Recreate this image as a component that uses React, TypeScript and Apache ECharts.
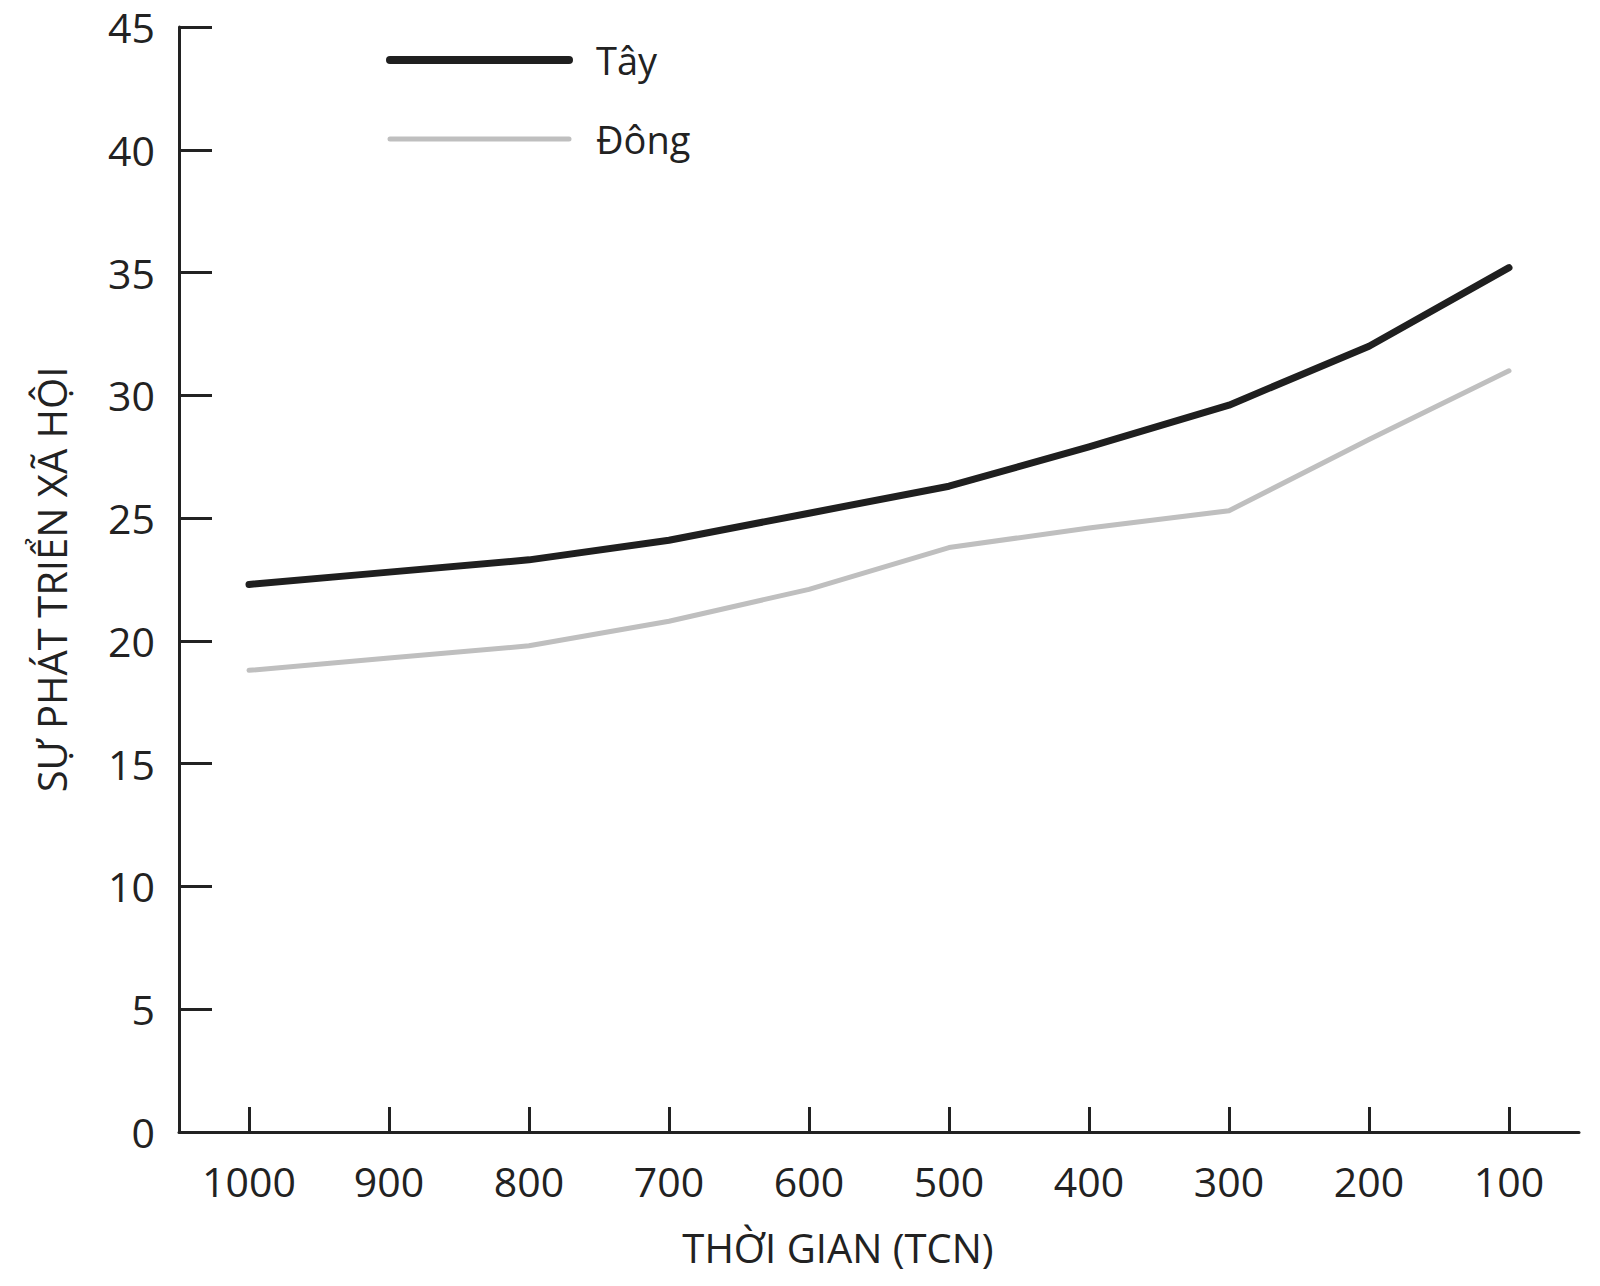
import React, { useEffect, useRef } from "react";
import * as echarts from "echarts";

const categories = ["1000", "900", "800", "700", "600", "500", "400", "300", "200", "100"];
const tayValues = [22.3, 22.8, 23.3, 24.1, 25.2, 26.3, 27.9, 29.6, 32.0, 35.2];
const dongValues = [18.8, 19.3, 19.8, 20.8, 22.1, 23.8, 24.6, 25.3, 28.2, 31.0];
const seriesNames = ["Tây", "Đông"];
const xAxisName = "THỜI GIAN (TCN)";
const yAxisName = "SỰ PHÁT TRIỂN XÃ HỘI";

const FONT = "'Open Sans', 'Noto Sans', sans-serif";
const INK = "#222222";
const TAY_COLOR = "#1f1f1f";
const DONG_COLOR = "#bfbfbf";

export default function App() {
  const ref = useRef<HTMLDivElement>(null);
  useEffect(() => {
    if (!ref.current) return;
    const chart = echarts.init(ref.current, undefined, { renderer: "svg" });
    chart.setOption({
      animation: false,
      backgroundColor: "#ffffff",
      textStyle: { fontFamily: FONT, color: INK },
      grid: { left: 179, right: 21, top: 27, bottom: 154, containLabel: false },
      legend: {
        orient: "vertical",
        left: 381,
        top: 36,
        itemWidth: 179,
        itemHeight: 20,
        itemGap: 41,
        itemStyle: { opacity: 0 },
        data: [
          { name: seriesNames[0], lineStyle: { width: 8, color: TAY_COLOR, cap: "round" } },
          { name: seriesNames[1], lineStyle: { width: 5, color: DONG_COLOR, cap: "round" } },
        ],
        textStyle: { fontFamily: FONT, fontSize: 38, color: INK, padding: [0, 0, 0, 22] },
      },
      xAxis: {
        type: "category",
        data: categories,
        boundaryGap: true,
        name: xAxisName,
        nameLocation: "middle",
        nameGap: 95,
        nameTextStyle: { fontFamily: FONT, fontSize: 40, color: INK, padding: [0, 82, 0, 0] },
        axisLine: { lineStyle: { color: INK, width: 3 } },
        axisTick: { show: true, inside: true, length: 25, alignWithLabel: true, lineStyle: { color: INK, width: 3 } },
        axisLabel: { fontFamily: FONT, fontSize: 41, color: INK, margin: 28 },
        splitLine: { show: false },
      },
      yAxis: {
        type: "value",
        min: 0,
        max: 45,
        interval: 5,
        name: yAxisName,
        nameLocation: "middle",
        nameRotate: 90,
        nameGap: 108,
        nameTextStyle: { fontFamily: FONT, fontSize: 40, color: INK },
        axisLine: { show: true, lineStyle: { color: INK, width: 3 } },
        axisTick: { show: true, inside: true, length: 33, lineStyle: { color: INK, width: 3 } },
        axisLabel: { fontFamily: FONT, fontSize: 41, color: INK, margin: 24 },
        splitLine: { show: false },
      },
      series: [
        {
          name: seriesNames[0],
          type: "line",
          data: tayValues,
          symbol: "none",
          lineStyle: { color: TAY_COLOR, width: 7, cap: "round", join: "round" },
          itemStyle: { color: TAY_COLOR },
        },
        {
          name: seriesNames[1],
          type: "line",
          data: dongValues,
          symbol: "none",
          lineStyle: { color: DONG_COLOR, width: 5, cap: "round", join: "round" },
          itemStyle: { color: DONG_COLOR },
        },
      ],
    });
    return () => chart.dispose();
  }, []);
  return (
    <div
      ref={ref}
      style={{ position: "absolute", left: 0, top: 0, width: 1600, height: 1286, background: "#fff" }}
    />
  );
}
